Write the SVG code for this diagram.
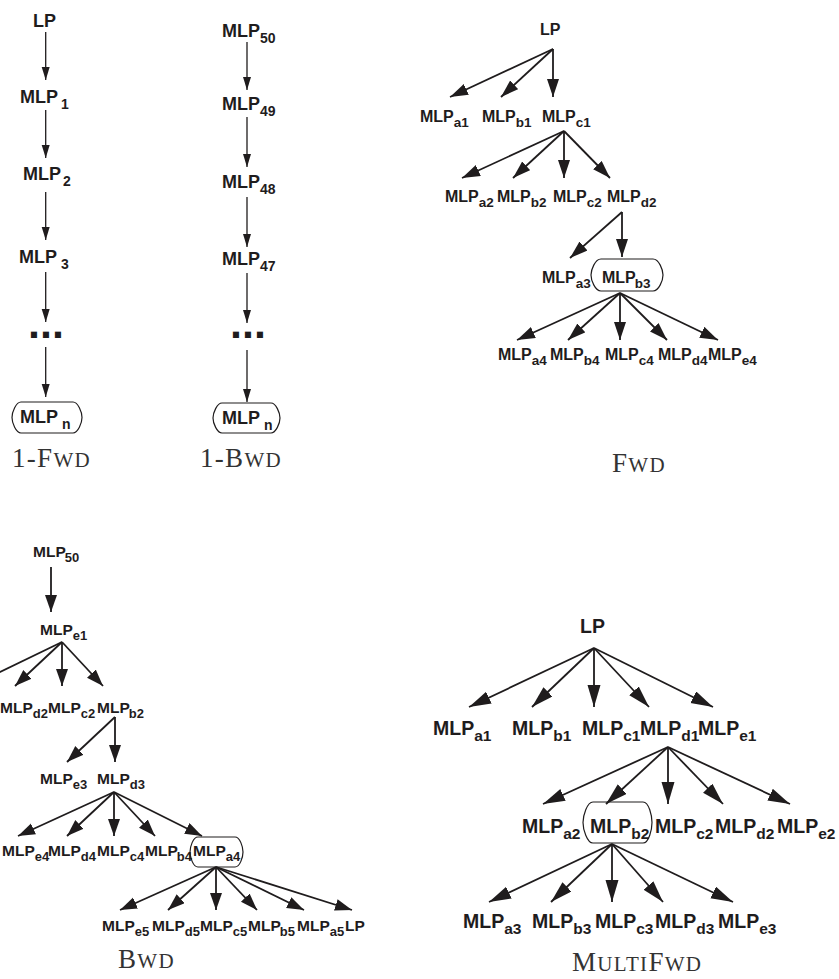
<svg xmlns="http://www.w3.org/2000/svg" width="839" height="979" viewBox="0 0 839 979">
<style>
text{font-family:"Liberation Sans",Arial,Helvetica,sans-serif;font-weight:bold;fill:#1f1c1d}
.c{font-size:18px}.cs{font-size:14px}
.f{font-size:16px}.fs{font-size:13.5px}
.b{font-size:15.5px}.bs{font-size:13px}
.m{font-size:19.5px}.ms{font-size:15.5px}
.dots{font-size:43px}
.cap{font-family:"Liberation Serif","Times New Roman",serif;font-weight:normal;fill:#333;font-size:27px;letter-spacing:1.3px}
.sc{font-size:21px}
line{stroke:#1f1c1d}
.lc{stroke-width:1.3}
.lt{stroke-width:1.8}
.box{fill:none;stroke:#1f1c1d;stroke-width:1.2}
</style>
<defs>
<marker id="ac" markerUnits="userSpaceOnUse" markerWidth="14" markerHeight="9" refX="13" refY="4" orient="auto"><path d="M0,0L13,4L0,8Z" fill="#1f1c1d"/></marker>
<marker id="af" markerUnits="userSpaceOnUse" markerWidth="19" markerHeight="13" refX="18" refY="6" orient="auto"><path d="M0,0L18,6L0,12Z" fill="#1f1c1d"/></marker>
<marker id="ab" markerUnits="userSpaceOnUse" markerWidth="18" markerHeight="13" refX="17" refY="6" orient="auto"><path d="M0,0L17,6L0,12Z" fill="#1f1c1d"/></marker>
<marker id="am" markerUnits="userSpaceOnUse" markerWidth="23" markerHeight="14" refX="22" refY="6.5" orient="auto"><path d="M0,0L22,6.5L0,13Z" fill="#1f1c1d"/></marker>
</defs>

<!-- connectors -->
<g id="connectors">
<g class="lc" marker-end="url(#ac)">
<line x1="45.7" y1="32" x2="45.7" y2="80"/>
<line x1="45.7" y1="110" x2="45.7" y2="158"/>
<line x1="45.7" y1="192" x2="45.7" y2="240"/>
<line x1="45.7" y1="272" x2="45.7" y2="322"/>
<line x1="45.7" y1="347" x2="45.7" y2="397"/>
<line x1="247" y1="42" x2="247" y2="90"/>
<line x1="247" y1="117" x2="247" y2="167"/>
<line x1="247" y1="197" x2="247" y2="247"/>
<line x1="247" y1="273" x2="247" y2="323"/>
<line x1="247" y1="350" x2="247" y2="402"/>
</g>
<g class="lt" marker-end="url(#af)">
<line x1="553" y1="49" x2="450" y2="97"/>
<line x1="553" y1="49" x2="501" y2="97"/>
<line x1="553" y1="49" x2="553" y2="97"/>
<line x1="564" y1="131" x2="462" y2="178"/>
<line x1="564" y1="131" x2="513" y2="178"/>
<line x1="564" y1="131" x2="564" y2="178"/>
<line x1="564" y1="131" x2="610" y2="178"/>
<line x1="622" y1="212" x2="570" y2="258"/>
<line x1="622" y1="212" x2="622" y2="257"/>
<line x1="620" y1="293" x2="517" y2="340"/>
<line x1="620" y1="293" x2="568" y2="340"/>
<line x1="620" y1="293" x2="620" y2="340"/>
<line x1="620" y1="293" x2="667" y2="340"/>
<line x1="620" y1="293" x2="718" y2="340"/>
</g>
<g class="lt" marker-end="url(#ab)">
<line x1="51" y1="567" x2="51" y2="612"/>
<line x1="62" y1="642" x2="-29" y2="686"/>
<line x1="62" y1="642" x2="15" y2="686"/>
<line x1="62" y1="642" x2="62" y2="686"/>
<line x1="62" y1="642" x2="103" y2="686"/>
<line x1="115" y1="717" x2="67" y2="762"/>
<line x1="115" y1="717" x2="115" y2="762"/>
<line x1="114" y1="792" x2="18" y2="836"/>
<line x1="114" y1="792" x2="67" y2="836"/>
<line x1="114" y1="792" x2="114" y2="836"/>
<line x1="114" y1="792" x2="155" y2="836"/>
<line x1="114" y1="792" x2="202" y2="836"/>
<line x1="216" y1="867" x2="120" y2="910"/>
<line x1="216" y1="867" x2="168" y2="910"/>
<line x1="216" y1="867" x2="216" y2="910"/>
<line x1="216" y1="867" x2="257" y2="910"/>
<line x1="216" y1="867" x2="304" y2="910"/>
<line x1="216" y1="867" x2="352" y2="910"/>
</g>
<g class="lt" marker-end="url(#am)">
<line x1="594" y1="648" x2="469" y2="707"/>
<line x1="594" y1="648" x2="532" y2="707"/>
<line x1="594" y1="648" x2="594" y2="707"/>
<line x1="594" y1="648" x2="649" y2="707"/>
<line x1="594" y1="648" x2="713" y2="707"/>
<line x1="668" y1="747" x2="543" y2="804"/>
<line x1="668" y1="747" x2="606" y2="804"/>
<line x1="668" y1="747" x2="668" y2="804"/>
<line x1="668" y1="747" x2="723" y2="804"/>
<line x1="668" y1="747" x2="790" y2="804"/>
<line x1="612" y1="844" x2="489" y2="902"/>
<line x1="612" y1="844" x2="551" y2="902"/>
<line x1="612" y1="844" x2="612" y2="902"/>
<line x1="612" y1="844" x2="663" y2="902"/>
<line x1="612" y1="844" x2="733" y2="902"/>
</g>
</g>

<!-- 1-Fwd -->
<g id="onefwd">
<g id="of-lp"><text class="c" x="33" y="27">LP</text></g>
<g id="of-1"><text class="c" x="20" y="103">MLP<tspan class="cs" dx="3" dy="6">1</tspan></text></g>
<g id="of-2"><text class="c" x="23" y="180">MLP<tspan class="cs" dx="2" dy="6">2</tspan></text></g>
<g id="of-3"><text class="c" x="19" y="263">MLP<tspan class="cs" dx="4" dy="6">3</tspan></text></g>
<g id="of-dots"><text class="dots" x="28" y="338">...</text></g>
<g id="of-n"><path class="box" d="M21,402L73,402C78,402 82,412 82,417.5C82,423 78,433 73,433L21,433C16,433 12,423 12,417.5C12,412 16,402 21,402Z"/><text class="c" x="20" y="423">MLP<tspan class="cs" dx="4" dy="6">n</tspan></text></g>
<g id="of-cap"><text class="cap" x="12" y="467">1-F<tspan class="sc">WD</tspan></text></g>
</g>

<!-- 1-Bwd -->
<g id="onebwd">
<g id="ob-50"><text class="c" x="222" y="37">MLP<tspan class="cs" dy="6">50</tspan></text></g>
<g id="ob-49"><text class="c" x="222" y="110">MLP<tspan class="cs" dy="6">49</tspan></text></g>
<g id="ob-48"><text class="c" x="222" y="188">MLP<tspan class="cs" dy="6">48</tspan></text></g>
<g id="ob-47"><text class="c" x="222" y="265">MLP<tspan class="cs" dy="6">47</tspan></text></g>
<g id="ob-dots"><text class="dots" x="230" y="338">...</text></g>
<g id="ob-n"><path class="box" d="M222,403L271,403C276,403 280,413 280,418C280,423 276,433 271,433L222,433C217,433 213,423 213,418C213,413 217,403 222,403Z"/><text class="c" x="222" y="424">MLP<tspan class="cs" dx="4" dy="6">n</tspan></text></g>
<g id="ob-cap"><text class="cap" x="200" y="467">1-B<tspan class="sc">WD</tspan></text></g>
</g>

<!-- Fwd -->
<g id="fwd">
<g id="f-lp"><text class="f" x="540" y="35">LP</text></g>
<g id="f-a1"><text class="f" x="420" y="122">MLP<tspan class="fs" dy="5">a1</tspan></text></g>
<g id="f-b1"><text class="f" x="482" y="122">MLP<tspan class="fs" dy="5">b1</tspan></text></g>
<g id="f-c1"><text class="f" x="542" y="122">MLP<tspan class="fs" dy="5">c1</tspan></text></g>
<g id="f-a2"><text class="f" x="445" y="202">MLP<tspan class="fs" dy="5">a2</tspan></text></g>
<g id="f-b2"><text class="f" x="497" y="202">MLP<tspan class="fs" dy="5">b2</tspan></text></g>
<g id="f-c2"><text class="f" x="553" y="202">MLP<tspan class="fs" dy="5">c2</tspan></text></g>
<g id="f-d2"><text class="f" x="607" y="202">MLP<tspan class="fs" dy="5">d2</tspan></text></g>
<g id="f-a3"><text class="f" x="542" y="283">MLP<tspan class="fs" dy="5">a3</tspan></text></g>
<g id="f-b3"><path class="box" d="M601,259L653,259C659,259 663,270 663,275C663,280 659,291 653,291L601,291C595,291 591,280 591,275C591,270 595,259 601,259Z"/><text class="f" x="602" y="283">MLP<tspan class="fs" dx="-1" dy="5">b3</tspan></text></g>
<g id="f-a4"><text class="f" x="498" y="360">MLP<tspan class="fs" dy="5">a4</tspan></text></g>
<g id="f-b4"><text class="f" x="550" y="360">MLP<tspan class="fs" dy="5">b4</tspan></text></g>
<g id="f-c4"><text class="f" x="605" y="360">MLP<tspan class="fs" dy="5">c4</tspan></text></g>
<g id="f-d4"><text class="f" x="658" y="360">MLP<tspan class="fs" dy="5">d4</tspan></text></g>
<g id="f-e4"><text class="f" x="708" y="360">MLP<tspan class="fs" dy="5">e4</tspan></text></g>
<g id="f-cap"><text class="cap" x="612" y="472">F<tspan class="sc">WD</tspan></text></g>
</g>

<!-- Bwd -->
<g id="bwd">
<g id="b-50"><text class="b" x="33" y="557">MLP<tspan class="bs" dx="-1" dy="5">50</tspan></text></g>
<g id="b-e1"><text class="b" x="40" y="635">MLP<tspan class="bs" dy="5">e1</tspan></text></g>
<g id="b-d2"><text class="b" x="0" y="713">MLP<tspan class="bs" dy="5">d2</tspan></text></g>
<g id="b-c2"><text class="b" x="48" y="713">MLP<tspan class="bs" dy="5">c2</tspan></text></g>
<g id="b-b2"><text class="b" x="97" y="713">MLP<tspan class="bs" dx="-1" dy="5">b2</tspan></text></g>
<g id="b-e3"><text class="b" x="40" y="784">MLP<tspan class="bs" dy="5">e3</tspan></text></g>
<g id="b-d3"><text class="b" x="97" y="784">MLP<tspan class="bs" dy="5">d3</tspan></text></g>
<g id="b-e4"><text class="b" x="2" y="856">MLP<tspan class="bs" dy="5">e4</tspan></text></g>
<g id="b-d4"><text class="b" x="48" y="856">MLP<tspan class="bs" dy="5">d4</tspan></text></g>
<g id="b-c4"><text class="b" x="97" y="856">MLP<tspan class="bs" dy="5">c4</tspan></text></g>
<g id="b-b4"><text class="b" x="145" y="856">MLP<tspan class="bs" dx="-1" dy="5">b4</tspan></text></g>
<g id="b-a4"><path class="box" d="M198,837L235,837C240,837 243,847 243,852C243,857 240,867 235,867L198,867C193,867 190,857 190,852C190,847 193,837 198,837Z"/><text class="b" x="193" y="856">MLP<tspan class="bs" dy="5">a4</tspan></text></g>
<g id="b-e5"><text class="b" x="102" y="931">MLP<tspan class="bs" dy="5">e5</tspan></text></g>
<g id="b-d5"><text class="b" x="152" y="931">MLP<tspan class="bs" dy="5">d5</tspan></text></g>
<g id="b-c5"><text class="b" x="200" y="931">MLP<tspan class="bs" dy="5">c5</tspan></text></g>
<g id="b-b5"><text class="b" x="248" y="931">MLP<tspan class="bs" dx="-1" dy="5">b5</tspan></text></g>
<g id="b-a5"><text class="b" x="297" y="931">MLP<tspan class="bs" dy="5">a5</tspan></text></g>
<g id="b-lp"><text class="b" x="345" y="931">LP</text></g>
<g id="b-cap"><text class="cap" x="118" y="968">B<tspan class="sc">WD</tspan></text></g>
</g>

<!-- MultiFwd -->
<g id="multifwd">
<g id="m-lp"><text class="m" x="580" y="633">LP</text></g>
<g id="m-a1"><text class="m" x="433" y="735">MLP<tspan class="ms" dy="6">a1</tspan></text></g>
<g id="m-b1"><text class="m" x="512" y="735">MLP<tspan class="ms" dy="6">b1</tspan></text></g>
<g id="m-c1"><text class="m" x="582" y="735">MLP<tspan class="ms" dy="6">c1</tspan></text></g>
<g id="m-d1"><text class="m" x="640" y="735">MLP<tspan class="ms" dy="6">d1</tspan></text></g>
<g id="m-e1"><text class="m" x="698" y="735">MLP<tspan class="ms" dy="6">e1</tspan></text></g>
<g id="m-a2"><text class="m" x="522" y="833">MLP<tspan class="ms" dy="6">a2</tspan></text></g>
<g id="m-b2"><path class="box" d="M593,802L643,802C649,802 652,816 652,822.5C652,829 649,843 643,843L593,843C587,843 583,829 583,822.5C583,816 587,802 593,802Z"/><text class="m" x="590" y="833">MLP<tspan class="ms" dy="6">b2</tspan></text></g>
<g id="m-c2"><text class="m" x="655" y="833">MLP<tspan class="ms" dy="6">c2</tspan></text></g>
<g id="m-d2"><text class="m" x="715" y="833">MLP<tspan class="ms" dy="6">d2</tspan></text></g>
<g id="m-e2"><text class="m" x="777" y="833">MLP<tspan class="ms" dy="6">e2</tspan></text></g>
<g id="m-a3"><text class="m" x="463" y="928">MLP<tspan class="ms" dy="6">a3</tspan></text></g>
<g id="m-b3"><text class="m" x="532" y="928">MLP<tspan class="ms" dy="6">b3</tspan></text></g>
<g id="m-c3"><text class="m" x="595" y="928">MLP<tspan class="ms" dy="6">c3</tspan></text></g>
<g id="m-d3"><text class="m" x="655" y="928">MLP<tspan class="ms" dy="6">d3</tspan></text></g>
<g id="m-e3"><text class="m" x="718" y="928">MLP<tspan class="ms" dy="6">e3</tspan></text></g>
<g id="m-cap"><text class="cap" x="572" y="971">M<tspan class="sc">ULTI</tspan>F<tspan class="sc">WD</tspan></text></g>
</g>
</svg>
